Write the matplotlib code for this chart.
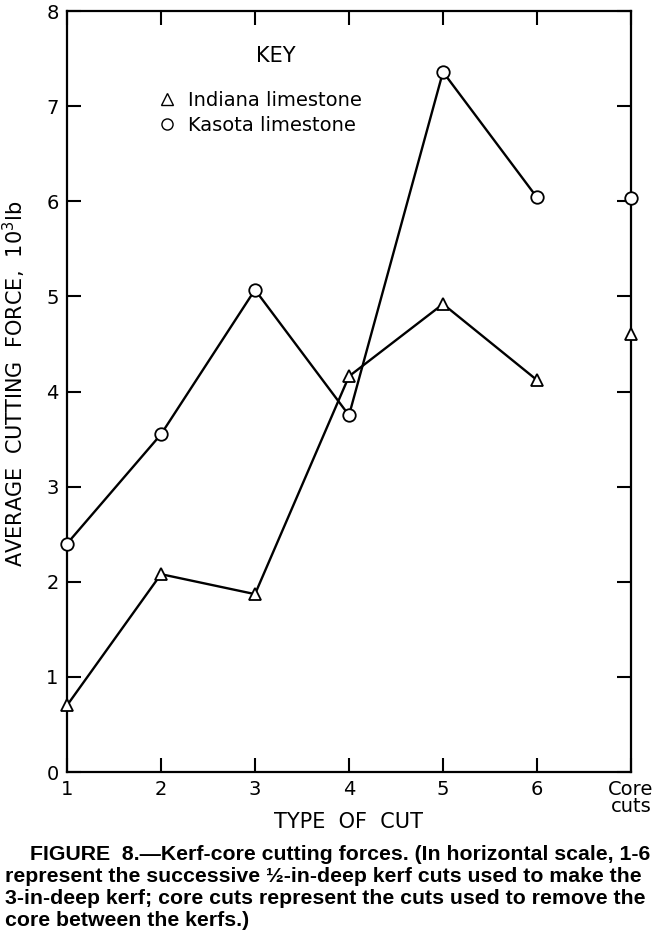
"""Kerf-core cutting forces (Figure 8) redrawn from the scanned report."""
import matplotlib

matplotlib.use("Agg")
import matplotlib.pyplot as plt
from matplotlib.lines import Line2D

# cut positions: 1-6 are the kerf cuts, 7 stands for the core cuts
cuts = [1, 2, 3, 4, 5, 6]
core_pos = 7
tick_labels = ["1", "2", "3", "4", "5", "6", "Core\ncuts"]

indiana = [0.70, 2.08, 1.87, 4.16, 4.92, 4.12]
kasota = [2.40, 3.55, 5.07, 3.75, 7.36, 6.04]
indiana_core = 4.60
kasota_core = 6.03

caption = [
    "FIGURE  8.\u2014Kerf-core cutting forces. (In horizontal scale, 1-6",
    "represent the successive \u00bd-in-deep kerf cuts used to make the",
    "3-in-deep kerf; core cuts represent the cuts used to remove the",
    "core between the kerfs.)",
]

plt.rcParams["font.family"] = ["DejaVu Sans"]

fig = plt.figure(figsize=(6.53, 9.51), dpi=100)
ax = fig.add_axes([0.1026, 0.1882, 0.8637, 0.8002])

mk = dict(color="black", lw=1.7, markerfacecolor="white", markeredgewidth=1.3,
          markersize=9, clip_on=False, zorder=3)
ax.plot(cuts, indiana, marker="^", **mk)
ax.plot(cuts, kasota, marker="o", **mk)
ax.plot([core_pos], [indiana_core], marker="^", linestyle="none", **mk)
ax.plot([core_pos], [kasota_core], marker="o", linestyle="none", **mk)

ax.set_xlim(1, 7)
ax.set_ylim(0, 8)
ax.set_xticks(range(1, 8), tick_labels, fontsize=14)
ax.set_yticks(range(0, 9), [str(v) for v in range(0, 9)], fontsize=14)
ax.tick_params(direction="in", length=10, width=1.5, top=True, right=True,
               pad=6)
for s in ax.spines.values():
    s.set_linewidth(1.6)
ax.xaxis.get_majorticklabels()[-1].set_linespacing(0.85)

ax.set_xlabel("TYPE  OF  CUT", fontsize=15)
ax.xaxis.set_label_coords(0.5, -0.053)
ax.set_ylabel("AVERAGE  CUTTING  FORCE,  10$^3$lb", fontsize=15)
ax.yaxis.set_label_coords(-0.07, 0.51)

ax.text(0.37, 0.941, "KEY", transform=ax.transAxes, fontsize=15,
        ha="center", va="center")
handles = [
    Line2D([], [], marker="^", linestyle="none", color="black",
           markerfacecolor="white", markersize=8),
    Line2D([], [], marker="o", linestyle="none", color="black",
           markerfacecolor="white", markersize=8),
]
ax.legend(handles, ["Indiana limestone", "Kasota limestone"], frameon=False,
          loc="upper left", bbox_to_anchor=(0.163, 0.895), fontsize=14,
          handlelength=0.8, handletextpad=0.7, labelspacing=0.3,
          borderpad=0, borderaxespad=0)

ys = [860, 882, 904, 926]
xs = [30, 5, 5, 5]
for line, x, y in zip(caption, xs, ys):
    fig.text(x / 653, 1 - y / 951, line, fontsize=15.3, fontweight="bold",
             family=["Liberation Sans", "DejaVu Sans"], va="baseline")

fig.savefig("out.png", dpi=100)
